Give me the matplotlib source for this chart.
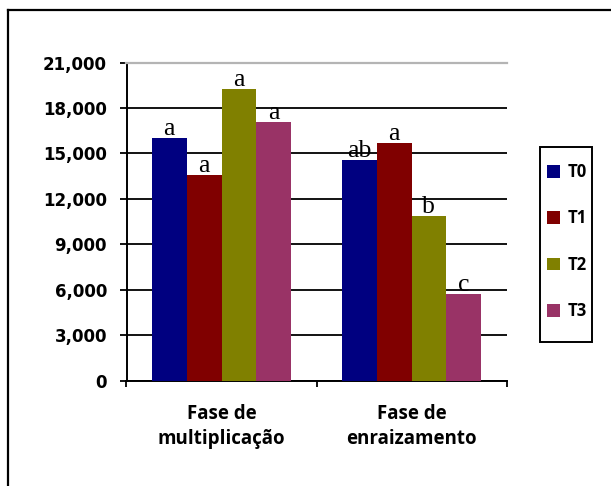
import matplotlib
matplotlib.use("Agg")
import matplotlib.pyplot as plt
from matplotlib.patches import Patch, Rectangle
from matplotlib.lines import Line2D
import numpy as np

# Data
phases = ["Fase de\nmultiplicação", "Fase de\nenraizamento"]
treatments = ["T0", "T1", "T2", "T3"]
t0 = [16000, 14550]
t1 = [13600, 15700]
t2 = [19250, 10850]
t3 = [17100, 5700]
letters_t0 = ["a", "ab"]
letters_t1 = ["a", "a"]
letters_t2 = ["a", "b"]
letters_t3 = ["a", "c"]
yticks = [0, 3000, 6000, 9000, 12000, 15000, 18000, 21000]

series = [t0, t1, t2, t3]
letters = [letters_t0, letters_t1, letters_t2, letters_t3]
colors = ["#000080", "#800000", "#808000", "#993366"]

W, H = 611, 486
fig = plt.figure(figsize=(W / 100, H / 100), dpi=100)
ax = fig.add_axes([126.5 / W, 1 - 380.5 / H, 380 / W, 318 / H])

x = np.arange(len(phases))
bw = 0.183
for i, (vals, col, labs) in enumerate(zip(series, colors, letters)):
    xs = x + (i - 1.5) * bw
    ax.bar(xs, vals, width=bw, color=col, zorder=3)
    for xi, v, lab in zip(xs, vals, labs):
        ax.annotate(lab, (xi, v), xytext=(0, 2), textcoords="offset points",
                    ha="center", va="baseline", family="Liberation Serif",
                    fontsize=18.5, zorder=4)

ax.set_xlim(-0.5, 1.5)
ax.set_ylim(0, 21000)
ax.set_yticks(yticks)
ax.set_yticklabels([f"{v:,}" for v in yticks], family="DejaVu Sans",
                   fontweight="bold", fontsize=12)
ax.tick_params(axis="y", direction="out", length=5, width=1.3, pad=9)

ax.set_xticks(x)
ax.set_xticklabels(phases, family="Open Sans", fontweight="bold",
                   fontsize=13.5, linespacing=1.35)
ax.tick_params(axis="x", which="major", length=0, pad=17)
ax.set_xticks([-0.5, 0.5, 1.5], minor=True)
ax.tick_params(axis="x", which="minor", direction="out", length=4, width=1.3)

ax.yaxis.grid(True, color="black", linewidth=1.3, zorder=1)
ax.set_axisbelow(True)
for s in ["left", "bottom"]:
    ax.spines[s].set_linewidth(1.4)
ax.spines["right"].set_visible(False)
ax.spines["top"].set_color("#b4b4b4")
ax.spines["top"].set_linewidth(1.6)

# legend entries, with a separate box drawn around them
handles = [Patch(facecolor=c, edgecolor="none") for c in colors]
fig.legend(handles, treatments, loc="center",
           bbox_to_anchor=(567 / W, 1 - 241.5 / H),
           frameon=False,
           prop={"family": "Open Sans", "weight": "bold", "size": 12},
           handlelength=0.8, handleheight=0.8, handletextpad=0.45,
           labelspacing=1.7, borderpad=0.2, borderaxespad=0)
fig.add_artist(Rectangle((540 / W, 1 - 342 / H), 52 / W, 195 / H,
                         transform=fig.transFigure, fill=False,
                         edgecolor="black", linewidth=1.4))

# outer frame (left and top edges)
fig.add_artist(Line2D([8 / W, 8 / W], [0, 1 - 10 / H], transform=fig.transFigure,
                      color="black", linewidth=1.6))
fig.add_artist(Line2D([8 / W, 1], [1 - 10 / H, 1 - 10 / H], transform=fig.transFigure,
                      color="black", linewidth=1.6))

fig.savefig("out.png", dpi=100)
